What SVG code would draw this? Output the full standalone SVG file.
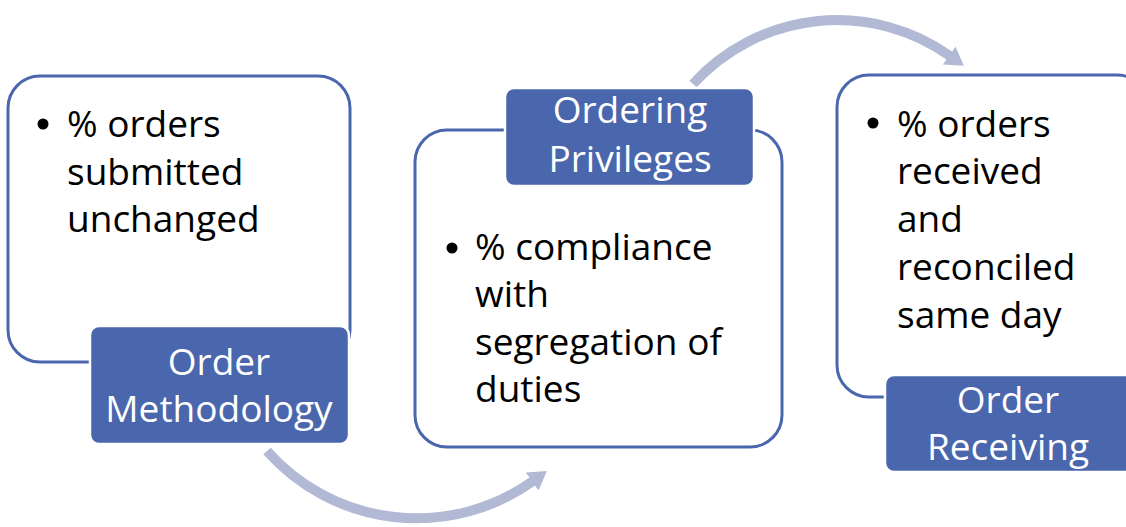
<svg xmlns="http://www.w3.org/2000/svg" width="1126" height="527" viewBox="0 0 1126 527">
  <style>
    .box { fill: #ffffff; stroke: #4a66ac; stroke-width: 3; }
    .label { fill: #4a66ac; stroke: #ffffff; stroke-width: 2.5; }
    .body { font-family: "Open Sans", "Noto Sans", sans-serif; font-size: 37px; fill: #000000; }
    .title { font-family: "Open Sans", "Noto Sans", sans-serif; font-size: 37px; fill: #ffffff; text-anchor: middle; }
    .bullet { fill: #000000; }
    .flow { fill: none; stroke: #b1b9d5; stroke-width: 10; }
  </style>
  <defs>
    <marker id="head" markerUnits="userSpaceOnUse" markerWidth="18" markerHeight="22" viewBox="0 0 18 22" refX="1" refY="11" orient="auto">
      <path d="M0,0 L18,11 L0,22 z" fill="#b1b9d5"/>
    </marker>
  </defs>

  <!-- curved flow arrows between stages -->
  <g id="connectors">
    <path class="flow" d="M 693 84 A 195 195 0 0 1 950 56" marker-end="url(#head)"/>
    <path class="flow" d="M 267 451 A 200 200 0 0 0 533 481" marker-end="url(#head)"/>
  </g>

  <!-- Stage 1 -->
  <g id="order-methodology">
    <rect class="box" x="8" y="76" width="342" height="286" rx="32"/>
    <circle class="bullet" cx="43" cy="124" r="5.5"/>
    <text class="body" x="67" y="137">% orders</text>
    <text class="body" x="67" y="185">submitted</text>
    <text class="body" x="67" y="232">unchanged</text>
    <rect class="label" x="90" y="326" width="259" height="118" rx="9"/>
    <text class="title" x="219" y="375">Order</text>
    <text class="title" x="219" y="422">Methodology</text>
  </g>

  <!-- Stage 2 -->
  <g id="ordering-privileges">
    <rect class="box" x="415" y="130" width="367" height="317" rx="32"/>
    <circle class="bullet" cx="452" cy="248" r="5.5"/>
    <text class="body" x="475" y="260">% compliance</text>
    <text class="body" x="475" y="307">with</text>
    <text class="body" x="475" y="355">segregation of</text>
    <text class="body" x="475" y="402">duties</text>
    <rect class="label" x="505" y="88" width="249" height="98" rx="9"/>
    <text class="title" x="630" y="123">Ordering</text>
    <text class="title" x="630" y="172">Privileges</text>
  </g>

  <!-- Stage 3 -->
  <g id="order-receiving">
    <rect class="box" x="837" y="75" width="312" height="322" rx="32"/>
    <circle class="bullet" cx="873" cy="123" r="5.5"/>
    <text class="body" x="897" y="137">% orders</text>
    <text class="body" x="897" y="184">received</text>
    <text class="body" x="897" y="232">and</text>
    <text class="body" x="897" y="280">reconciled</text>
    <text class="body" x="897" y="328">same day</text>
    <rect class="label" x="885" y="375" width="260" height="97" rx="9"/>
    <text class="title" x="1008" y="413">Order</text>
    <text class="title" x="1008" y="460">Receiving</text>
  </g>
</svg>
